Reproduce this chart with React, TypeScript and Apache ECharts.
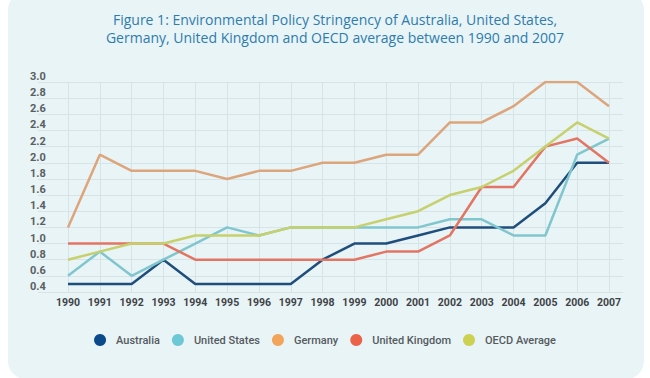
import React, { useEffect, useRef } from "react";
import * as echarts from "echarts";

const years = ["1990","1991","1992","1993","1994","1995","1996","1997","1998","1999","2000","2001","2002","2003","2004","2005","2006","2007"];
const australia = [0.5,0.5,0.5,0.8,0.5,0.5,0.5,0.5,0.8,1.0,1.0,1.1,1.2,1.2,1.2,1.5,2.0,2.0];
const unitedStates = [0.6,0.9,0.6,0.8,1.0,1.2,1.1,1.2,1.2,1.2,1.2,1.2,1.3,1.3,1.1,1.1,2.1,2.3];
const germany = [1.2,2.1,1.9,1.9,1.9,1.8,1.9,1.9,2.0,2.0,2.1,2.1,2.5,2.5,2.7,3.0,3.0,2.7];
const unitedKingdom = [1.0,1.0,1.0,1.0,0.8,0.8,0.8,0.8,0.8,0.8,0.9,0.9,1.1,1.7,1.7,2.2,2.3,2.0];
const oecdAverage = [0.8,0.9,1.0,1.0,1.1,1.1,1.1,1.2,1.2,1.2,1.3,1.4,1.6,1.7,1.9,2.2,2.5,2.3];

const seriesNames = ["Australia", "United States", "Germany", "United Kingdom", "OECD Average"];
const seriesData = [australia, unitedStates, germany, unitedKingdom, oecdAverage];
const legendColors = ["#0b4a8a", "#6cc8d4", "#f2a45a", "#ec6249", "#cdd152"];
const lineColors = ["#1f4e7c", "#80c6ce", "#dca57c", "#e27563", "#c6d06c"];

export default function App() {
  const ref = useRef<HTMLDivElement>(null);
  useEffect(() => {
    if (!ref.current) return;
    const chart = echarts.init(ref.current, null, { renderer: "svg" });
    const font = "Roboto";
    chart.setOption({
      animation: false,
      backgroundColor: "#ffffff",
      graphic: [
        {
          type: "rect",
          shape: { x: 8, y: -8, width: 636, height: 387, r: 18 },
          style: { fill: "#e9f4f6" },
          z: -10,
        },
      ],
      title: {
        text: "Figure 1: Environmental Policy Stringency of Australia, United States,\nGermany, United Kingdom and OECD average between 1990 and 2007",
        left: 330,
        top: 5,
        textAlign: "center",
        textStyle: {
          fontFamily: "Open Sans",
          fontSize: 14,
          fontWeight: "normal",
          color: "#2d7caf",
          lineHeight: 18,
        },
      },
      legend: {
        top: 329,
        left: "center",
        icon: "circle",
        itemWidth: 12,
        itemHeight: 12,
        itemGap: 12,
        data: seriesNames.map((n, i) => ({ name: n, itemStyle: { color: legendColors[i] } })),
        textStyle: {
          fontFamily: font,
          fontSize: 11,
          fontWeight: 500,
          color: "#555a5e",
          padding: [0, 0, 0, 5],
        },
      },
      grid: [
        { left: 38, right: 27, top: 82, bottom: 86 },
        { left: 68, right: 41, top: 82, bottom: 86 },
      ],
      xAxis: [
        { gridIndex: 0, type: "value", show: false, min: 0, max: 1 },
        {
          gridIndex: 1,
          type: "category",
          boundaryGap: false,
          data: years,
          axisLine: { show: false },
          axisTick: { show: false },
          splitLine: { show: true, lineStyle: { color: "#d6e4e7", width: 1 } },
          axisLabel: {
            margin: 5,
            fontFamily: font,
            fontSize: 10.5,
            fontWeight: "bold",
            color: "#3f4346",
          },
        },
      ],
      yAxis: [
        {
          gridIndex: 0,
          type: "value",
          min: 0.4,
          max: 3.0,
          interval: 0.2,
          axisLine: { show: false },
          axisTick: { show: false },
          splitLine: { show: true, lineStyle: { color: "#d6e4e7", width: 1 } },
          axisLabel: {
            margin: 8,
            align: "left",
            verticalAlign: "bottom",
            fontFamily: font,
            fontSize: 11,
            fontWeight: "bold",
            color: "#5a5f63",
            formatter: (v: number) => v.toFixed(1),
          },
        },
        { gridIndex: 1, type: "value", min: 0.4, max: 3.0, interval: 0.2, show: false },
      ],
      series: seriesNames.map((n, i) => ({
        name: n,
        type: "line",
        xAxisIndex: 1,
        yAxisIndex: 1,
        data: seriesData[i],
        symbol: "none",
        itemStyle: { color: legendColors[i] },
        lineStyle: { color: lineColors[i], width: 2.5 },
      })),
    });
    return () => chart.dispose();
  }, []);
  return (
    <div
      ref={ref}
      style={{ position: "fixed", left: 0, top: 0, width: 650, height: 378 }}
    />
  );
}
